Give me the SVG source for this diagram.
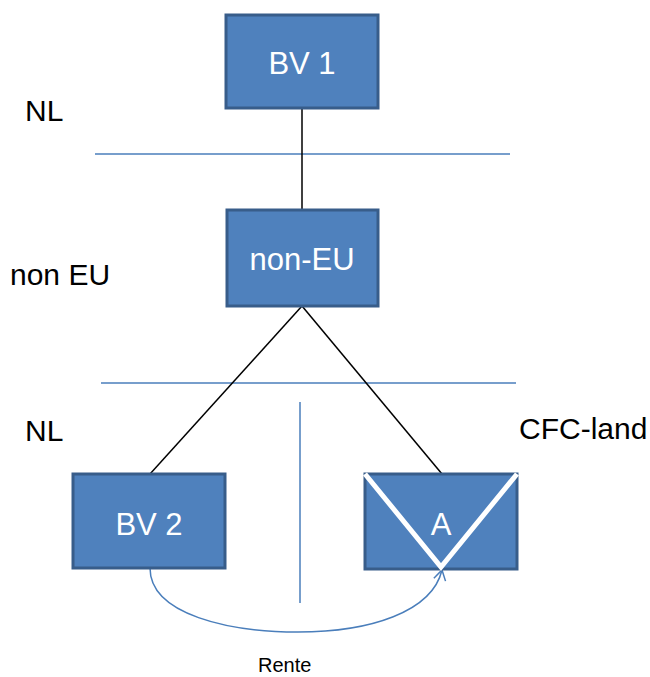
<svg xmlns="http://www.w3.org/2000/svg" width="650" height="677" viewBox="0 0 650 677">
<defs>
<style>
.box{fill:#4f81bd;stroke:#385d8a;stroke-width:3}
.bt{fill:#fff;font-family:"Liberation Sans",Arial,sans-serif;font-size:31px;text-anchor:middle}
.lbl{fill:#000;font-family:"Liberation Sans",Arial,sans-serif;font-size:30px}
.sep{stroke:#4a7ebb;stroke-width:1.5;fill:none}
.con{stroke:#000;stroke-width:1.5;fill:none}
</style>
<marker id="arr" markerWidth="16" markerHeight="16" refX="12" refY="8" orient="auto" markerUnits="userSpaceOnUse">
<path d="M2,2 L12,8 L2,14" fill="none" stroke="#4a7ebb" stroke-width="1.5"/>
</marker>
</defs>
<rect width="650" height="677" fill="#fff"/>
<g id="separators">
<line class="sep" x1="95" y1="154" x2="510" y2="154"/>
<line class="sep" x1="101" y1="383" x2="516" y2="383"/>
<line class="sep" x1="300" y1="402" x2="300" y2="603"/>
</g>
<g id="connectors">
<line class="con" x1="302" y1="108" x2="302" y2="210"/>
<line class="con" x1="302" y1="306" x2="150" y2="474"/>
<line class="con" x1="302" y1="306" x2="442" y2="474"/>
<path class="sep" d="M150,568 C150,615 230,632 298,632 C370,632 432,612 442,570" marker-end="url(#arr)"/>
</g>
<g id="bv1">
<rect class="box" x="226" y="15" width="152" height="93"/>
<text class="bt" x="302" y="74">BV 1</text>
</g>
<g id="noneu">
<rect class="box" x="227" y="210" width="151" height="96"/>
<text class="bt" x="302" y="270">non-EU</text>
</g>
<g id="bv2">
<rect class="box" x="73" y="474" width="152" height="94"/>
<text class="bt" x="149" y="535">BV 2</text>
</g>
<g id="a">
<rect class="box" x="365" y="474" width="152" height="95"/>
<polyline points="365,474 441,567 517,474" fill="none" stroke="#fff" stroke-width="5"/>
<text class="bt" x="441" y="535">A</text>
</g>
<g id="labels">
<text class="lbl" x="25" y="121">NL</text>
<text class="lbl" x="10" y="285">non EU</text>
<text class="lbl" x="25" y="441">NL</text>
<text class="lbl" x="519" y="439">CFC-land</text>
<text class="lbl" x="258" y="672" style="font-size:20px">Rente</text>
</g>
</svg>
